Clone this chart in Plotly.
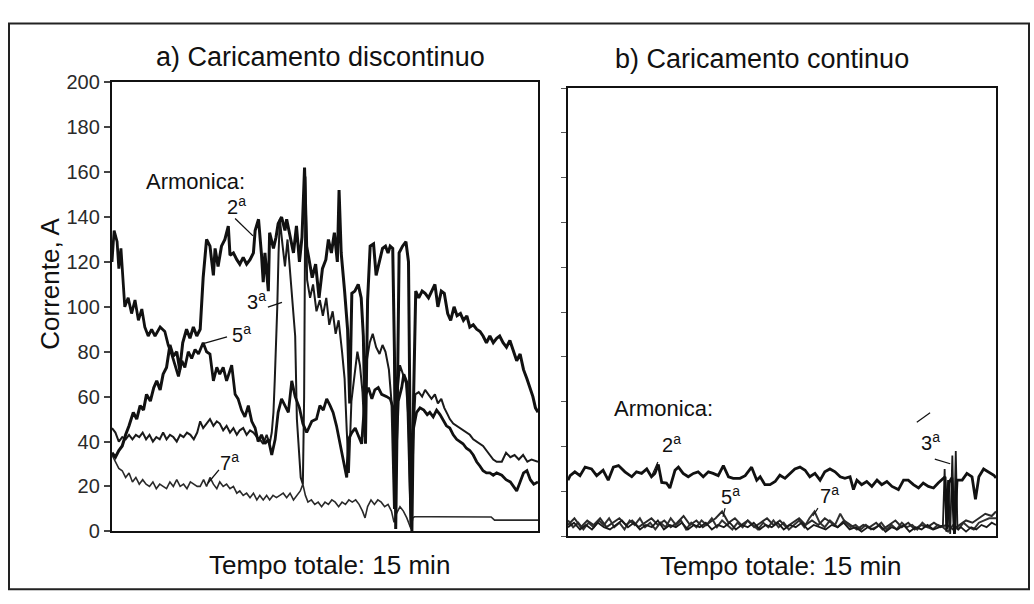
import plotly.graph_objects as go

W, H = 1034, 604
FONT = "Liberation Sans, Arial, Helvetica, sans-serif"

# ---------------- data: (tempo in % of the 15 min, corrente in A) ----------------
y_ticks = list(range(0, 201, 20))

# a) Caricamento discontinuo
h2_discontinuo = [
    (0, 35), (0.8, 33), (1.6, 36), (2.4, 38), (3.2, 43), (4.0, 47), (5.0, 53), (5.8, 50), (6.6, 56),
    (7.4, 54), (8.1, 61), (9.0, 58), (9.8, 64), (10.5, 67), (11.3, 63), (12.0, 70), (12.8, 73),
    (13.6, 83), (14.4, 78), (15.2, 80), (15.9, 72), (16.6, 84), (17.5, 90), (18.3, 86), (19.1, 91),
    (19.9, 87), (20.7, 90), (21.4, 113), (22.2, 130), (23.0, 127), (23.8, 114), (24.2, 126),
    (24.9, 118), (25.7, 127), (26.5, 130), (27.3, 136), (27.7, 123), (28.5, 124), (29.3, 121),
    (30.0, 119), (30.8, 122), (31.6, 119), (32.4, 121), (33.2, 124), (33.6, 134), (34.4, 139),
    (35.1, 123), (35.5, 111), (35.9, 124), (36.7, 107), (37.0, 133), (37.9, 126), (38.5, 131),
    (39.0, 137), (39.8, 140), (40.6, 134), (41.0, 139), (41.8, 131), (42.6, 124), (43.3, 136),
    (44.0, 120), (44.6, 131), (45.2, 162), (45.7, 127), (46.3, 120), (47.0, 113), (47.8, 119),
    (48.6, 104), (49.4, 117), (50.2, 121), (50.8, 130), (51.5, 124), (52.2, 133), (52.9, 120),
    (53.3, 152), (53.8, 124), (54.6, 107), (55.3, 90), (55.8, 57), (56.3, 106), (57.0, 107),
    (57.8, 110), (58.5, 104), (59.0, 87), (59.5, 39), (60.0, 103), (60.6, 127), (61.4, 128),
    (62.0, 114), (62.8, 120), (63.5, 126), (64.2, 127), (64.8, 124), (65.3, 127), (65.9, 126),
    (66.3, 80), (66.6, 1), (67.0, 60), (67.4, 124), (68.2, 127), (69.0, 129), (69.6, 120),
    (70.0, 40), (70.4, 0), (70.8, 60), (71.3, 107), (72.0, 104), (72.8, 107), (73.5, 106),
    (74.3, 104), (75.0, 107), (75.8, 110), (76.5, 100), (77.3, 107), (78.0, 106), (78.8, 97),
    (79.5, 94), (80.3, 100), (81.0, 96), (81.8, 97), (82.5, 94), (83.3, 96), (84.0, 91),
    (84.8, 92), (85.6, 90), (86.4, 89), (87.1, 87), (87.9, 84), (88.7, 87), (89.5, 84),
    (90.3, 86), (91.0, 87), (91.8, 84), (92.6, 82), (93.4, 85), (94.2, 80), (95.0, 76),
    (95.8, 79), (96.6, 72), (97.4, 68), (98.2, 63), (98.8, 60), (99.4, 55), (100, 53),
]

h3_discontinuo = [
    (0, 46), (0.8, 44), (1.6, 40), (2.4, 42), (3.2, 41), (4.0, 43), (4.8, 41), (5.6, 43), (6.4, 42),
    (7.2, 44), (8.0, 41), (8.8, 43), (9.6, 40), (10.4, 42), (11.2, 41), (12.0, 44), (12.8, 41),
    (13.6, 43), (14.4, 42), (15.2, 40), (16.0, 43), (16.8, 42), (17.6, 44), (18.4, 43), (19.2, 41),
    (20.0, 44), (20.7, 49), (21.4, 46), (22.2, 48), (23.0, 50), (23.8, 47), (24.6, 49), (25.3, 48),
    (26.1, 45), (26.9, 47), (27.7, 44), (28.5, 46), (29.3, 43), (30.0, 45), (30.8, 46), (31.6, 43),
    (32.4, 45), (33.2, 44), (34.0, 42), (34.7, 41), (35.5, 39), (36.3, 43), (37.0, 39), (37.5, 44),
    (37.9, 53), (38.2, 67), (38.5, 81), (38.8, 100), (39.1, 124), (39.4, 139), (40.0, 128),
    (40.6, 118), (41.2, 130), (41.8, 116), (42.5, 100), (43.0, 87), (43.4, 50), (43.8, 36),
    (44.3, 24), (44.8, 21), (45.1, 60), (45.4, 158), (45.8, 112), (46.5, 104), (47.2, 110),
    (48.0, 98), (48.8, 103), (49.5, 96), (50.3, 104), (51.0, 92), (51.8, 98), (52.5, 88),
    (53.2, 94), (54.0, 80), (54.6, 68), (55.1, 45), (55.6, 26), (56.2, 58), (57.0, 72),
    (57.6, 80), (58.2, 74), (58.8, 62), (59.3, 42), (59.8, 76), (60.5, 84), (61.2, 88),
    (62.0, 82), (62.8, 79), (63.5, 83), (64.2, 80), (65.0, 72), (65.6, 58), (66.2, 10),
    (66.6, 30), (67.0, 62), (67.6, 74), (68.3, 70), (69.0, 66), (69.6, 50), (70.1, 2),
    (70.6, 38), (71.2, 61), (72.0, 62), (72.8, 60), (73.5, 63), (74.3, 61), (75.0, 59),
    (75.8, 61), (76.5, 57), (77.3, 59), (78.0, 55), (78.8, 52), (79.3, 50), (80.1, 48),
    (80.9, 47), (81.7, 46), (82.4, 45), (83.2, 44), (84.0, 43), (84.8, 41), (85.6, 40),
    (86.4, 39), (87.1, 38), (87.9, 36), (88.7, 34), (89.5, 32), (90.3, 31), (91.5, 31),
    (92.5, 35), (93.5, 33), (94.5, 34), (95.5, 32), (96.5, 34), (97.5, 31), (98.5, 32), (100, 31),
]

h5_discontinuo = [
    (0, 120), (0.5, 134), (1.2, 129), (1.6, 117), (2.1, 126), (2.5, 113), (3.0, 100), (3.8, 104),
    (4.6, 97), (5.4, 103), (6.2, 94), (7.0, 99), (7.7, 91), (8.5, 87), (9.3, 90), (10.1, 87),
    (11.3, 91), (12.4, 89), (13.2, 83), (14.0, 79), (14.8, 74), (15.6, 69), (16.4, 76), (17.1, 73),
    (17.9, 80), (18.7, 77), (19.5, 81), (20.3, 79), (21.4, 84), (22.2, 80), (23.0, 79), (23.8, 67),
    (24.6, 73), (25.3, 70), (26.1, 73), (26.9, 67), (28.1, 74), (28.9, 61), (29.6, 59), (30.4, 54),
    (31.2, 51), (32.0, 56), (32.8, 49), (33.6, 46), (34.3, 40), (35.1, 43), (35.9, 39), (36.7, 41),
    (37.5, 34), (38.3, 41), (39.0, 53), (39.8, 59), (40.6, 56), (41.4, 53), (42.2, 67), (43.0, 60),
    (44.0, 55), (44.8, 48), (45.7, 44), (46.9, 49), (48.0, 50), (48.8, 56), (49.6, 54), (50.4, 59),
    (51.2, 56), (51.9, 53), (52.7, 47), (53.5, 39), (54.3, 31), (55.1, 24), (55.5, 41), (56.3, 44),
    (57.1, 46), (57.8, 43), (58.6, 39), (59.4, 60), (60.2, 64), (61.0, 59), (61.7, 63), (62.5, 64),
    (63.3, 61), (64.5, 60), (65.3, 59), (66.0, 55), (66.4, 10), (66.8, 40), (67.2, 58), (68.0, 64),
    (68.5, 70), (69.3, 66), (69.8, 30), (70.2, 4), (70.7, 45), (71.5, 53), (72.3, 55), (73.2, 54),
    (74.0, 52), (74.6, 53), (75.4, 51), (76.2, 54), (77.0, 52), (77.8, 49), (78.5, 47), (79.3, 46),
    (80.1, 43), (80.9, 41), (81.7, 40), (82.4, 39), (83.2, 37), (84.0, 36), (84.8, 34), (85.6, 31),
    (86.4, 29), (87.1, 27), (87.9, 26), (88.7, 26), (89.5, 25), (90.3, 26), (91.5, 25), (92.5, 23),
    (93.5, 22), (94.3, 20), (95.0, 18), (95.8, 22), (96.6, 26), (97.4, 27), (98.2, 23), (99.0, 21),
    (100, 22),
]

h7_discontinuo = [
    (0, 34), (0.8, 31), (1.6, 28), (2.4, 27), (3.2, 24), (4.0, 26), (4.8, 22), (5.6, 24), (6.4, 21),
    (7.2, 23), (8.0, 21), (8.8, 20), (9.6, 22), (10.4, 19), (11.2, 21), (12.0, 20), (12.8, 19),
    (13.6, 22), (14.4, 20), (15.2, 23), (16.0, 20), (16.8, 21), (17.6, 19), (18.4, 22), (19.2, 21),
    (20.0, 20), (20.7, 20), (21.5, 23), (22.2, 20), (23.0, 24), (23.8, 21), (24.6, 19), (25.3, 22),
    (26.1, 20), (26.9, 21), (27.7, 19), (28.5, 20), (29.3, 17), (30.0, 18), (30.8, 16), (31.6, 17),
    (32.4, 15), (33.2, 17), (34.0, 14), (34.7, 16), (35.5, 14), (36.3, 16), (37.0, 14), (37.8, 16),
    (38.6, 15), (39.4, 16), (40.2, 17), (41.0, 15), (41.8, 17), (42.6, 14), (43.4, 16), (44.2, 18),
    (44.8, 21), (45.4, 16), (46.0, 13), (46.8, 14), (47.6, 12), (48.4, 13), (49.2, 11), (50.0, 13),
    (50.8, 12), (51.6, 14), (52.4, 13), (53.2, 11), (54.0, 13), (54.8, 12), (55.6, 14), (56.4, 13),
    (57.2, 14), (58.0, 12), (58.8, 9), (59.4, 6), (60.0, 11), (60.8, 14), (61.6, 12), (62.4, 14),
    (63.2, 13), (64.0, 11), (64.8, 12), (65.6, 9), (66.2, 4), (66.8, 8), (67.6, 11), (68.4, 9),
    (69.2, 6), (69.8, 3), (70.2, 1), (70.6, 6), (71.0, 6.5), (75.0, 6.5), (80.0, 6.4), (85.0, 6.4),
    (89.0, 6.4), (89.8, 5), (95.0, 5), (100, 5),
]

# b) Caricamento continuo
h2_continuo = [
    (0, 25), (0.5, 27), (1.6, 28.7), (2.8, 27), (4.0, 30.8), (5.5, 30), (6.7, 27), (8.2, 29.4),
    (9.4, 25), (10.6, 30.8), (11.8, 31.5), (13.3, 28.7), (14.9, 26.5), (16.0, 28.7), (17.2, 28),
    (18.4, 30), (19.5, 26.5), (20.3, 28), (21.1, 32), (21.9, 24), (23.0, 23.7), (23.8, 21.5),
    (25.0, 29.4), (25.8, 30.8), (26.9, 28), (28.1, 26.5), (29.3, 28), (30.4, 28.7), (31.6, 26.5),
    (32.8, 28.7), (33.9, 28), (35.1, 27), (36.3, 31.5), (37.5, 26.5), (38.6, 25.8), (40.2, 25.8),
    (41.4, 27), (42.9, 30.8), (44.1, 25), (44.9, 26.5), (46.0, 23), (47.2, 23), (48.4, 24.4),
    (49.5, 27.2), (50.7, 25.8), (51.9, 28), (53.0, 30), (54.2, 30.8), (55.4, 29.4), (56.5, 26.5),
    (57.7, 28), (58.9, 25), (60.0, 28.7), (61.2, 30), (62.4, 28.7), (63.6, 26.5), (64.7, 25.8),
    (65.9, 26.5), (66.7, 20.8), (67.5, 25), (68.6, 23), (69.8, 24.4), (71.0, 22.2), (72.2, 25),
    (73.3, 23), (74.5, 24.4), (75.7, 22.2), (77.2, 20.8), (78.4, 25), (79.5, 25), (80.7, 23),
    (81.9, 21.5), (83.0, 23.7), (84.2, 22.2), (85.4, 21.5), (86.5, 23.7), (87.3, 25), (88.1, 26.5),
    (88.6, 3), (89.0, 24), (89.7, 26), (90.3, 1), (90.9, 25), (92.1, 25), (93.2, 28), (94.4, 26.5),
    (95.2, 16.5), (96.0, 26.5), (97.1, 30), (98.3, 28.7), (99.5, 27.2), (100, 26),
]

h3_continuo = [
    (0, 4), (1.4, 6), (2.8, 3), (4.2, 5), (5.6, 3), (7, 6), (8.4, 4), (9.8, 3), (11.2, 5), (12.6, 7),
    (14, 4), (15.4, 6), (16.8, 3), (18.2, 5), (19.6, 4), (21, 7), (22.4, 3), (23.8, 5), (25.2, 4),
    (26.6, 6), (28, 3), (29.4, 5), (30.8, 4), (32.2, 6), (33.6, 3), (35, 5), (36.4, 4), (37.8, 6),
    (39.2, 3), (40.6, 5), (42, 4), (43.4, 6), (44.8, 3), (46.2, 5), (47.6, 4), (49, 6), (50.4, 3),
    (51.8, 5), (53.2, 4), (54.6, 6), (56, 3), (57.4, 5), (58.8, 4), (60.2, 3), (61.6, 5), (63, 4),
    (64.4, 6), (65.8, 3), (67.2, 4), (68.6, 2), (70, 4), (71.4, 3), (72.8, 5), (74.2, 2), (75.6, 4),
    (77, 3), (78.4, 5), (79.8, 2), (81.2, 4), (82.6, 3), (84, 5), (85.4, 3), (86.8, 4), (87.6, 5),
    (88.0, 30), (88.4, 2), (88.8, 25), (89.3, 1), (89.8, 36), (90.2, 1), (90.6, 38), (91.0, 3),
    (91.8, 4), (93, 2), (94.2, 4), (95.4, 3), (96.6, 5), (97.8, 4), (99, 6), (100, 5),
]

h5_continuo = [
    (0, 5), (1.5, 8), (3, 4), (4.5, 7), (6, 5), (7.5, 8), (9, 4), (10.5, 6), (12, 8), (13.5, 5),
    (15, 7), (16.5, 4), (18, 6), (19.5, 8), (21, 5), (22.5, 7), (24, 4), (25.5, 6), (27, 9),
    (28.5, 5), (30, 7), (31.5, 4), (33, 6), (34.5, 8), (36, 11), (37.5, 6), (39, 8), (40.5, 5),
    (42, 7), (43.5, 4), (45, 6), (46.5, 8), (48, 5), (49.5, 7), (51, 4), (52.5, 6), (54, 8),
    (55.5, 5), (57, 7), (58.5, 5), (60, 8), (61.5, 6), (63, 4), (64.5, 7), (66, 5), (67.5, 3),
    (69, 5), (70.5, 4), (72, 6), (73.5, 3), (75, 5), (76.5, 7), (78, 4), (79.5, 6), (81, 3),
    (82.5, 5), (84, 4), (85.5, 6), (87, 4), (88.5, 5), (90, 3), (91.5, 5), (93, 7), (94.5, 6),
    (96, 8), (97.5, 10), (99, 9), (100, 11),
]

h7_continuo = [
    (0, 7), (1.2, 4), (2.4, 6), (3.6, 3), (4.8, 6), (6, 4), (7.2, 7), (8.4, 5), (9.6, 8), (10.8, 4),
    (12, 6), (13.2, 3), (14.4, 7), (15.6, 5), (16.8, 8), (18, 4), (19.2, 6), (20.4, 3), (21.6, 6),
    (22.8, 4), (24, 8), (25.2, 5), (26.4, 7), (27.6, 3), (28.8, 6), (30, 4), (31.2, 7), (32.4, 5),
    (33.6, 8), (34.8, 4), (36, 7), (37.2, 5), (38.4, 3), (39.6, 6), (40.8, 4), (42, 7), (43.2, 5),
    (44.4, 3), (45.6, 6), (46.8, 4), (48, 7), (49.2, 4), (50.4, 6), (51.6, 3), (52.8, 5), (54, 7),
    (55.2, 4), (56.4, 8), (57.6, 11), (58.8, 6), (60, 4), (61.2, 7), (62.4, 5), (63.6, 10),
    (64.8, 6), (66, 4), (67.2, 5), (68.4, 3), (69.6, 5), (70.8, 3), (72, 4), (73.2, 6), (74.4, 3),
    (75.6, 5), (76.8, 3), (78, 6), (79.2, 4), (80.4, 5), (81.6, 3), (82.8, 6), (84, 4), (85.2, 3),
    (86.4, 5), (87.6, 4), (88.8, 2), (90, 5), (91.2, 3), (92.4, 6), (93.6, 4), (94.8, 3), (96, 6),
    (97.2, 7), (98.4, 8), (100, 8),
]

# labels: (text, x, y) in data units of each panel
labels_a = [("Armonica:", 19.7, 156), ("2<sup>a</sup>", 29.3, 145), ("3<sup>a</sup>", 34.0, 103),
            ("5<sup>a</sup>", 30.5, 88), ("7<sup>a</sup>", 27.5, 31)]
pointers_a = [((28.9, 139.3), (33.1, 131.6)), ((36.6, 99.9), (39.9, 102.0)),
              ((27.0, 86.6), (21.4, 83.6)), ((25.1, 27.4), (22.5, 21.4))]
labels_b = [("Armonica:", 22.2, 56.8), ("2<sup>a</sup>", 24.1, 41.5), ("5<sup>a</sup>", 37.9, 18.2),
            ("7<sup>a</sup>", 61.2, 18.7), ("3<sup>a</sup>", 84.6, 42.3)]
pointers_b = [((21.0, 33.1), (19.6, 27.1)), ((36.7, 12.5), (36.2, 8.6)),
              ((58.4, 12.5), (57.2, 9.0)), ((85.7, 34.4), (89.3, 32.3)),
              ((81.5, 50.8), (84.6, 55.1))]

# ---------------- figure ----------------
fig = go.Figure()


def add(series, xa, ya, width, color):
    fig.add_trace(go.Scatter(
        x=[p[0] for p in series], y=[p[1] for p in series], xaxis=xa, yaxis=ya,
        mode="lines", line=dict(color=color, width=width, shape="linear"),
        showlegend=False, hoverinfo="skip"))


add(h7_discontinuo, "x", "y", 1.6, "#2a2a2a")
add(h3_discontinuo, "x", "y", 2.0, "#1a1a1a")
add(h5_discontinuo, "x", "y", 2.8, "#111111")
add(h2_discontinuo, "x", "y", 3.0, "#111111")

add(h7_continuo, "x2", "y2", 2.0, "#333333")
add(h5_continuo, "x2", "y2", 2.0, "#2a2a2a")
add(h3_continuo, "x2", "y2", 1.8, "#1a1a1a")
add(h2_continuo, "x2", "y2", 2.8, "#111111")


def px(x):
    return x / W


def py(y):
    return 1 - y / H


axis_common = dict(showgrid=False, zeroline=False, showline=True, mirror=True,
                   linecolor="#111111", linewidth=2.4)

fig.update_layout(
    width=W, height=H, margin=dict(l=0, r=0, t=0, b=0), autosize=False,
    paper_bgcolor="white", plot_bgcolor="white",
    font=dict(family=FONT, color="#111111", size=20),
    xaxis=dict(domain=[px(112), px(538)], range=[0, 100], anchor="y",
               showticklabels=False, ticks="", **axis_common),
    yaxis=dict(domain=[py(540), py(74)], range=[0, 200], anchor="x",
               tickmode="array", tickvals=y_ticks, ticktext=[str(v) for v in y_ticks],
               ticks="outside", ticklen=6, tickwidth=1.5, tickcolor="#444444",
               tickfont=dict(size=20, color="#2a2a2a", family=FONT), **axis_common),
    xaxis2=dict(domain=[px(568), px(996)], range=[0, 100], anchor="y2",
                showticklabels=False, ticks="", **axis_common),
    yaxis2=dict(domain=[py(545), py(80)], range=[0, 200], anchor="x2",
                tickmode="array", tickvals=y_ticks, showticklabels=False,
                ticks="outside", ticklen=5, tickwidth=1.2, tickcolor="#555555", **axis_common),
)


def paper_text(text, x, y, size, angle=0):
    return dict(text=text, x=px(x), y=py(y), xref="paper", yref="paper", xanchor="center",
                yanchor="middle", textangle=angle, showarrow=False,
                font=dict(size=size, family=FONT, color="#111111"))


annotations = [
    paper_text("a) Caricamento discontinuo", 320, 48, 27),
    paper_text("b) Caricamento continuo", 762, 50, 27),
    paper_text("Tempo totale: 15 min", 329, 575, 26),
    paper_text("Tempo totale: 15 min", 780, 576, 26),
    paper_text("Corrente, A", 50, 283, 26, -90),
]
for text, x, y in labels_a:
    annotations.append(dict(text=text, x=x, y=y, xref="x", yref="y", xanchor="center",
                            yanchor="middle", showarrow=False,
                            font=dict(size=22 if text.startswith("A") else 20, family=FONT,
                                      color="#111111")))
for text, x, y in labels_b:
    annotations.append(dict(text=text, x=x, y=y, xref="x2", yref="y2", xanchor="center",
                            yanchor="middle", showarrow=False,
                            font=dict(size=22 if text.startswith("A") else 20, family=FONT,
                                      color="#111111")))
fig.update_layout(annotations=annotations)

shapes = [dict(type="rect", xref="paper", yref="paper", x0=px(9), y0=py(600), x1=px(1029), y1=py(13),
               line=dict(color="#222222", width=2))]
for (x0, y0), (x1, y1) in pointers_a:
    shapes.append(dict(type="line", xref="x", yref="y", x0=x0, y0=y0, x1=x1, y1=y1,
                       line=dict(color="#111111", width=1.3)))
for (x0, y0), (x1, y1) in pointers_b:
    shapes.append(dict(type="line", xref="x2", yref="y2", x0=x0, y0=y0, x1=x1, y1=y1,
                       line=dict(color="#111111", width=1.2)))
fig.update_layout(shapes=shapes)

fig.write_html(
    "out.html",
    config={"responsive": False, "displayModeBar": False},
    post_script="document.documentElement.style.margin='0';document.body.style.margin='0';"
                "document.body.style.padding='0';document.body.style.overflow='hidden';",
)
